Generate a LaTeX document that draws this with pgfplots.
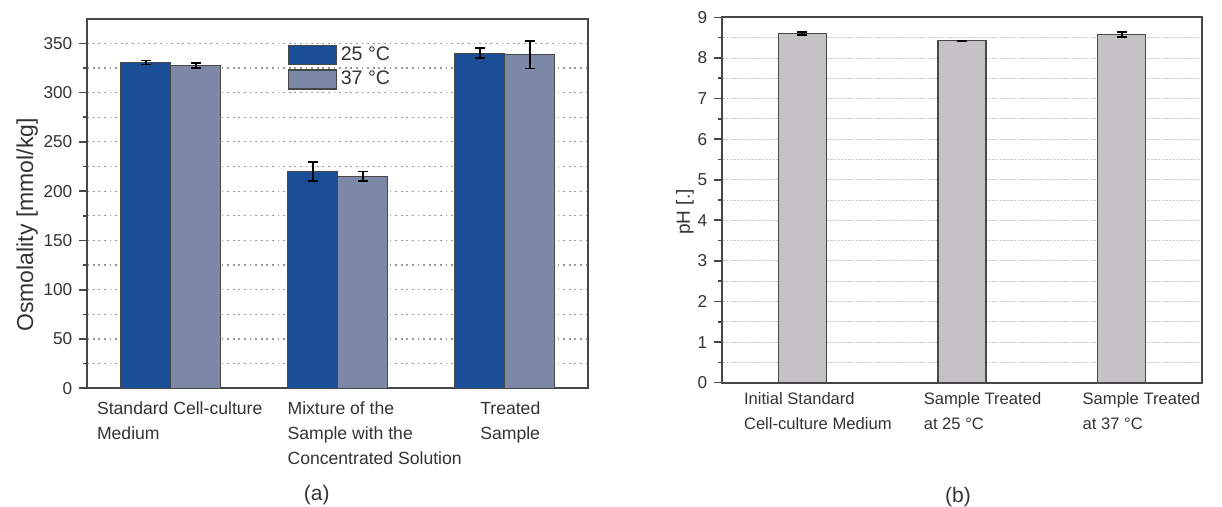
\documentclass[border=0pt]{standalone}
\usepackage{pgfplots}
\pgfplotsset{compat=1.18}
\usepackage{fontspec}
\setmainfont{Liberation Sans}
\definecolor{barblue}{HTML}{1A4E96}
\definecolor{bargray}{HTML}{7D87A6}
\definecolor{barlight}{HTML}{C4C2C4}
\definecolor{txt}{HTML}{333333}
\definecolor{axc}{HTML}{474747}
\pgfplotsset{
  common/.style={
    scale only axis, anchor=south west,
    axis line style={draw=axc, line width=0.9pt},
    ytick pos=left, tick align=outside,
    major tick length=4pt, minor tick length=2pt,
    every tick/.style={draw=axc, line width=0.8pt},
    major x tick style={draw=none},
    /pgf/number format/assume math mode=true,
    ymajorgrids, yminorgrids,
    yticklabel style={font=\fontsize{8.6}{10}\selectfont, text=txt},
    xticklabel style={anchor=north west, align=left, text=txt},
    ylabel style={anchor=base, text=txt},
  },
  errs/.style={error bars/.cd, y dir=both, y explicit,
    error bar style={black, line width=0.9pt},
    error mark options={rotate=90, mark size=#1, black, line width=0.9pt}},
}
\begin{document}
\begin{tikzpicture}
\path[use as bounding box] (0,0) rectangle (611pt,253.5pt);
\begin{axis}[common,
  at={(43.65pt,59.35pt)}, width=250.5pt, height=184.8pt,
  xmin=-0.5, xmax=2.5, ymin=0, ymax=375,
  ytick={0,50,...,350}, minor ytick={25,75,...,325},
  major grid style={draw=gray!80, line width=0.6pt, dash pattern=on 0.9pt off 1.9pt},
  minor grid style={draw=gray!80, line width=0.6pt, dash pattern=on 0.9pt off 1.9pt},
  xtick={-0.442,0.699,1.853},
  xticklabels={{Standard Cell-culture\\Medium},{Mixture of the\\Sample with the\\Concentrated Solution},{Treated\\Sample}},
  xticklabel style={font=\fontsize{8.8}{12.5}\selectfont, yshift=1pt, xshift=-3.5pt},
  ylabel={Osmolality [mmol/kg]},
  ylabel style={at={(axis description cs:-0.108,0.442)}, font=\fontsize{11.5}{13}\selectfont},
  legend style={at={(axis description cs:0.399,0.937)}, anchor=north west, draw=none, fill=none,
    font=\fontsize{9.8}{12}\selectfont, text=txt, inner sep=0pt},
  legend cell align=left,
  legend image code/.code={\draw[#1] (0pt,-4.75pt) rectangle (24pt,4.75pt);},
]
\addplot[ybar, bar width=0.3, bar shift=0, fill=barblue, draw=axc, line width=0.6pt, errs=2.6pt]
  coordinates {(-0.15,330.5) +- (0,2) (0.85,220) +- (0,9.5) (1.85,340) +- (0,5)};
\addplot[ybar, bar width=0.3, bar shift=0, fill=bargray, draw=axc, line width=0.6pt, errs=2.6pt]
  coordinates {(0.15,327.5) +- (0,2.5) (1.15,215) +- (0,5) (2.15,338.5) +- (0,14)};
\legend{25 °C, 37 °C}
\end{axis}
\begin{axis}[common,
  at={(361.15pt,62.15pt)}, width=239.7pt, height=182.7pt,
  xmin=-0.5, xmax=2.5, ymin=0, ymax=9,
  ytick={0,1,...,9}, minor ytick={0.5,1.5,...,8.5},
  major grid style={draw=gray!40, line width=0.4pt, dash pattern=on 1.2pt off 0.6pt},
  minor grid style={draw=gray!40, line width=0.4pt, dash pattern=on 1.2pt off 0.6pt},
  xtick={-0.352,0.773,1.767},
  xticklabels={{Initial Standard\\Cell-culture Medium},{Sample Treated\\at 25 °C},{Sample Treated\\at 37 °C}},
  xticklabel style={font=\fontsize{8.3}{12.5}\selectfont, yshift=2.5pt, xshift=-4.5pt},
  ylabel={pH [.]},
  ylabel style={at={(axis description cs:-0.0674,0.467)}, font=\fontsize{9.5}{11}\selectfont},
]
\addplot[ybar, bar width=0.3, bar shift=0, fill=barlight, draw=axc, line width=0.6pt, errs=2.4pt]
  coordinates {(0,8.60) +- (0,0.03) (1,8.42) +- (0,0.01) (2,8.58) +- (0,0.06)};
\end{axis}
\node[font=\fontsize{10.5}{12}\selectfont, text=txt] at (158.35pt,6pt) {(a)};
\node[font=\fontsize{10.5}{12}\selectfont, text=txt] at (479pt,5pt) {(b)};
\end{tikzpicture}
\end{document}
